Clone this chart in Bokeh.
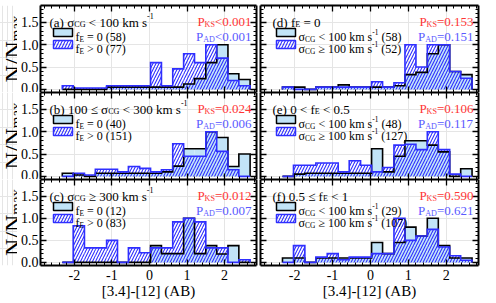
import numpy as np
from bokeh.plotting import figure
from bokeh.models import (Range1d, LinearAxis, Label, BoxAnnotation, FixedTicker,
                          PrintfTickFormatter, CustomJSTickFormatter)
from bokeh.layouts import gridplot
from bokeh.embed import file_html
from bokeh.resources import INLINE

try:
    from bokeh.models import GlobalInlineStyleSheet
    USE_GLOBAL = True
except ImportError:
    USE_GLOBAL = False

# ------------------------------------------------------------------ data
bin_edges = [-2.32, -2.03, -1.73, -1.44, -1.14, -0.85, -0.56, -0.26, 0.03,
             0.32, 0.62, 0.91, 1.20, 1.50, 1.79, 2.09, 2.38, 2.68]

# left column: sigma_CG classes, fE = 0 (filled) vs fE > 0 (hatched)
a_fe_zero = [0, 0, 0, 0, 0.05, 0.05, 0.05, 0.05, 0.05, 0.05, 0.05, 0.12, 0.24, 0.6, 1.0, 0.35, 0.22]
a_fe_pos = [0.08, 0.03, 0.03, 0.03, 0.08, 0.08, 0.08, 0.08, 0.6, 0.08, 0.46, 0.8, 0.6, 1.0, 0.7, 0.2, 0.08]
b_fe_zero = [0.07, 0.03, 0.0, 0.07, 0.07, 0.07, 0.07, 0.07, 0.07, 0.1, 0.23, 0.62, 0.62, 1.0, 0.87, 0.22, 0.5]
b_fe_pos = [0.0, 0.07, 0.03, 0.16, 0.16, 0.1, 0.22, 0.18, 0.1, 0.15, 0.73, 0.45, 0.45, 1.0, 0.56, 0.15, 0.0]
c_fe_zero = [0, 0, 0, 0, 0, 0, 0, 0, 0.38, 0.2, 0.2, 1.0, 0.2, 0.38, 0.19, 0.38, 0.0]
c_fe_pos = [0, 0.83, 0.33, 0.33, 0.5, 0, 0.33, 0.22, 0.33, 0.33, 0.92, 1.0, 0.92, 0.33, 0.33, 0.0, 0.06]

# right column: fE classes, sigma_CG < 100 (filled) vs >= 100 (hatched)
d_sig_low = [0.05, 0.05, 0, 0.05, 0.05, 0.1, 0.05, 0.05, 0.05, 0.05, 0.08, 0.33, 0.38, 0.8, 1.0, 0.4, 0.33]
d_sig_high = [0.05, 0, 0, 0.05, 0.05, 0.05, 0.05, 0.05, 0.17, 0.05, 0.15, 1.0, 0.5, 1.0, 1.0, 0.4, 0.25]
e_sig_low = [0, 0.05, 0.07, 0.07, 0.07, 0.07, 0.07, 0.07, 0.62, 0.1, 0.45, 0.8, 0.8, 0.7, 0.55, 0.0, 0.17]
e_sig_high = [0, 0.25, 0.25, 0.3, 0.3, 0.1, 0.35, 0.25, 0.1, 0.2, 0.7, 0.72, 0.6, 1.0, 0.6, 0.05, 0.0]
f_sig_low = [0.1, 0.1, 0, 0.1, 0.1, 0.1, 0.1, 0.1, 0.45, 0.2, 0.45, 0.8, 0.6, 1.0, 0.38, 0.1, 0.1]
f_sig_high = [0, 0.38, 0, 0.12, 0.2, 0.06, 0.12, 0.12, 0.2, 0.2, 1.0, 0.5, 0.6, 0.75, 0.35, 0.15, 0.05]

x_ticks = [-2, -1, 0, 1, 2]
y_ticks = [0.0, 0.5, 1.0, 1.5]

p_ks = ["<0.001", "=0.024", "=0.012", "=0.153", "=0.106", "=0.590"]
p_ad = ["<0.001", "=0.006", "=0.007", "=0.151", "=0.117", "=0.621"]
counts_low = ["58", "40", "12", "58", "48", "29"]
counts_high = ["77", "151", "83", "52", "127", "107"]

# ------------------------------------------------------------------ style
FONT = "Liberation Serif"
FILL = "#c2e4f8"
HATCH = "#2f2fff"
RED = "#ff3535"
PURPLE = "#5a5aff"

XR = (-2.9, 2.85)
YR = (-0.07, 1.88)
FW = [216, 218]
if USE_GLOBAL:
    FHS = [87, 87, 86]
    BT = [5, 0, 0]
else:
    FHS = [83, 83, 83]
    BT = [1, 0, 0]
BB = [0, 0, 37]
BL = [20, 2]
BR = [2, 7]
YLAB_W = 25

# Times / Liberation Serif advance widths (per 1000 em)
TW = {' ': 250, '(': 333, ')': 333, '[': 333, ']': 333, '.': 250, '-': 333, '=': 564,
      '<': 564, '>': 564, '≤': 549, '≥': 549, 'a': 444, 'b': 500, 'c': 444, 'd': 500,
      'e': 444, 'f': 333, 'k': 500, 'm': 778, 's': 389, 'x': 500, 'A': 722, 'B': 667,
      'C': 667, 'D': 722, 'E': 611, 'G': 722, 'K': 722, 'N': 722, 'P': 556, 'S': 556,
      '/': 278, 'σ': 552}


def tw(s, size):
    return sum(TW.get(ch, 500) for ch in s) * size / 1000.0


SUBF = 0.62


def segs_of(parts, size):
    out = []
    for text, kind in parts:
        if kind == "n":
            out.append((text, size, 0.0))
        elif kind == "sub":
            out.append((text, size * SUBF, -0.22 * size))
        else:
            out.append((text, size * SUBF, 0.45 * size))
    return out


def width_of(segs):
    return sum(tw(t, s) for t, s, _ in segs)


def rich(p, x, y, segs, color="black"):
    pos = x
    for text, size, dy in segs:
        lead = len(text) - len(text.lstrip(" "))
        pos += tw(" " * lead, size)
        body = text.strip(" ")
        p.add_layout(Label(x=pos, y=y + dy, x_units="screen", y_units="screen", text=body,
                           text_font=FONT, text_font_size=f"{size:.1f}px", text_color=color,
                           text_align="left", text_baseline="alphabetic"))
        pos += tw(text.lstrip(" "), size)


def rich_vertical(p, x, y, segs, color="black"):
    pos = y
    for text, size, dy in segs:
        p.add_layout(Label(x=x - dy, y=pos, x_units="screen", y_units="screen", text=text,
                           angle=np.pi / 2, text_font=FONT, text_font_size=f"{size:.1f}px",
                           text_color=color, text_align="left", text_baseline="alphabetic"))
        pos += tw(text, size)


def step_xy(edges, vals):
    xs, ys = [edges[0]], [0.0]
    for i, v in enumerate(vals):
        xs += [edges[i], edges[i + 1]]
        ys += [v, v]
    xs.append(edges[-1])
    ys.append(0.0)
    return xs, ys


def add_axis(p, side, labelled):
    if side in ("below", "above"):
        ticker = FixedTicker(ticks=x_ticks,
                             minor_ticks=np.round(np.arange(-2.8, 2.81, 0.2), 2).tolist())
    else:
        ticker = FixedTicker(ticks=y_ticks,
                             minor_ticks=np.round(np.arange(0.0, 1.81, 0.1), 2).tolist())
    ax = LinearAxis(ticker=ticker)
    ax.axis_line_width = 2
    ax.axis_line_color = "black"
    ax.major_tick_in = 6
    ax.major_tick_out = 0
    ax.minor_tick_in = 3
    ax.minor_tick_out = 0
    ax.major_tick_line_width = 1.3
    ax.minor_tick_line_width = 1
    if labelled:
        ax.formatter = PrintfTickFormatter(format="%d" if side == "below" else "%.1f")
        ax.major_label_text_font = FONT
        ax.major_label_text_font_size = "14px"
        ax.major_label_text_color = "black"
        ax.major_label_standoff = 4 if side == "below" else 2
        if side == "below":
            ax.axis_label = "[3.4]-[12] (AB)"
            ax.axis_label_text_font = FONT
            ax.axis_label_text_font_size = "15px"
            ax.axis_label_text_font_style = "normal"
            ax.axis_label_text_color = "black"
            ax.axis_label_standoff = 0
    else:
        ax.formatter = CustomJSTickFormatter(code="return ''")
        ax.major_label_text_font_size = "0px"
        ax.major_label_standoff = 0
    p.add_layout(ax, side)


titles = [
    [("(a) σ", "n"), ("CG", "sub"), (" < 100 km s", "n"), ("-1", "sup")],
    [("(b) 100 ≤ σ", "n"), ("CG", "sub"), (" < 300 km s", "n"), ("-1", "sup")],
    [("(c) σ", "n"), ("CG", "sub"), (" ≥ 300 km s", "n"), ("-1", "sup")],
    [("(d) f", "n"), ("E", "sub"), (" = 0", "n")],
    [("(e) 0 < f", "n"), ("E", "sub"), (" < 0.5", "n")],
    [("(f) 0.5 ≤ f", "n"), ("E", "sub"), (" < 1", "n")],
]

series = [(a_fe_zero, a_fe_pos), (b_fe_zero, b_fe_pos), (c_fe_zero, c_fe_pos),
          (d_sig_low, d_sig_high), (e_sig_low, e_sig_high), (f_sig_low, f_sig_high)]


def make_panel(k):
    col, row = k // 3, k % 3
    fw, fh = FW[col], FHS[row]
    p = figure(frame_width=fw, frame_height=fh, x_range=Range1d(*XR), y_range=Range1d(*YR),
               output_backend="svg", toolbar_location=None,
               x_axis_location=None, y_axis_location=None,
               min_border_left=BL[col], min_border_right=BR[col],
               min_border_top=BT[row], min_border_bottom=BB[row])
    p.outline_line_color = None
    p.background_fill_color = "white"
    p.border_fill_color = "white"

    low, high = series[k]
    left, right = bin_edges[:-1], bin_edges[1:]
    p.quad(left=left, right=right, bottom=0, top=low, fill_color=FILL, line_color=None)
    p.quad(left=left, right=right, bottom=0, top=high, fill_color=None, line_color=None,
           hatch_pattern="/", hatch_color=HATCH, hatch_scale=6, hatch_weight=1.1)
    xs, ys = step_xy(bin_edges, low)
    p.line(xs, ys, line_color="black", line_width=1.6, line_join="miter")
    xs, ys = step_xy(bin_edges, high)
    p.line(xs, ys, line_color=HATCH, line_width=1.6, line_join="miter")

    for side in ("below", "above", "left", "right"):
        labelled = (side == "below" and row == 2) or (side == "left" and col == 0)
        add_axis(p, side, labelled)

    # panel title
    tx = 9 if col == 0 else 12
    rich(p, tx, fh - 16.5, segs_of(titles[k], 13))

    # legend
    sx = 13 if col == 0 else 16
    p.add_layout(BoxAnnotation(left=sx, right=sx + 19, top=fh - 23, bottom=fh - 31,
                               left_units="screen", right_units="screen",
                               top_units="screen", bottom_units="screen",
                               fill_color=FILL, fill_alpha=1, line_color="black",
                               line_width=1.5, line_alpha=1))
    p.add_layout(BoxAnnotation(left=sx, right=sx + 19, top=fh - 35, bottom=fh - 43,
                               left_units="screen", right_units="screen",
                               top_units="screen", bottom_units="screen",
                               fill_color=None, fill_alpha=0, line_color=HATCH,
                               line_width=1.5, line_alpha=1, hatch_pattern="/",
                               hatch_color=HATCH, hatch_scale=6, hatch_weight=1.1,
                               hatch_alpha=1))
    if col == 0:
        l1 = [("f", "n"), ("E", "sub"), (f" = 0 ({counts_low[k]})", "n")]
        l2 = [("f", "n"), ("E", "sub"), (f" > 0 ({counts_high[k]})", "n")]
    else:
        l1 = [("σ", "n"), ("CG", "sub"), (" < 100 km s", "n"), ("-1", "sup"),
              (f" ({counts_low[k]})", "n")]
        l2 = [("σ", "n"), ("CG", "sub"), (" ≥ 100 km s", "n"), ("-1", "sup"),
              (f" ({counts_high[k]})", "n")]
    rich(p, sx + 22, fh - 31.5, segs_of(l1, 12))
    rich(p, sx + 22, fh - 43.5, segs_of(l2, 12))

    # statistics
    s1 = segs_of([("P", "n"), ("KS", "sub"), (p_ks[k], "n")], 13)
    s2 = segs_of([("P", "n"), ("AD", "sub"), (p_ad[k], "n")], 13)
    rich(p, fw - 5 - width_of(s1), fh - 16, s1, RED)
    rich(p, fw - 5 - width_of(s2), fh - 31, s2, PURPLE)
    return p


def make_ylabel(row):
    fh = FHS[row]
    p = figure(frame_width=YLAB_W, frame_height=fh, x_range=Range1d(0, 1),
               y_range=Range1d(0, 1), output_backend="svg", toolbar_location=None,
               x_axis_location=None, y_axis_location=None,
               min_border_left=0, min_border_right=0,
               min_border_top=BT[row], min_border_bottom=BB[row])
    p.outline_line_color = None
    p.background_fill_color = "white"
    p.border_fill_color = "white"
    segs = [("N/N", 24, 0.0), ("max", 15, -2.6)]
    rich_vertical(p, 20.8, fh / 2.0 - width_of(segs) / 2.0, segs)
    return p


panels = [make_panel(k) for k in range(6)]
ylabs = [make_ylabel(r) for r in range(3)]
grid = gridplot([[ylabs[0], panels[0], panels[3]],
                 [ylabs[1], panels[1], panels[4]],
                 [ylabs[2], panels[2], panels[5]]],
                toolbar_location=None)
grid.styles = {"vertical-align": "top"}
if USE_GLOBAL:
    grid.stylesheets = [GlobalInlineStyleSheet(css="html, body { margin: 0; padding: 0; }")]
    grid.margin = (0, 0, 0, -8)
else:
    grid.margin = (-4, 0, 0, -8)

open("out.html", "w").write(file_html(grid, INLINE))
